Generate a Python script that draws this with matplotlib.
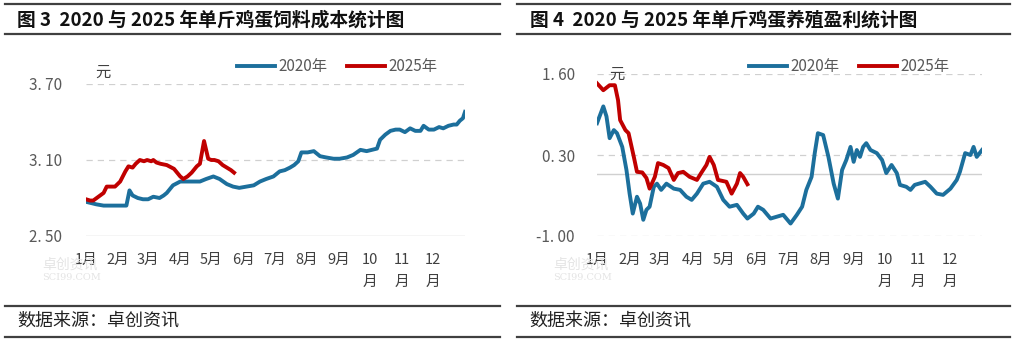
import matplotlib
matplotlib.use('Agg')
import matplotlib.pyplot as plt
from matplotlib.lines import Line2D

plt.rcParams['font.family'] = ['Noto Sans CJK SC', 'DejaVu Sans']

W, H = 1015, 346

# month tick positions (day of year) and labels
month_days = [0, 31, 60, 91, 121, 152, 182, 213, 244, 274, 305, 335]
month_labels = ['1月', '2月', '3月', '4月', '5月', '6月', '7月', '8月', '9月',
                '10\n月', '11\n月', '12\n月']

# 图3 feed cost, yuan per jin
cost_2020_day = [0, 5, 10, 17, 25, 33, 39, 42, 45, 50, 55, 60, 65, 71, 75, 78,
                 84, 91, 97, 104, 110, 116, 123, 129, 136, 142, 148, 155, 162,
                 168, 174, 181, 187, 192, 197, 201, 205, 208, 214, 220, 226,
                 232, 239, 245, 252, 258, 265, 271, 276, 281, 284, 289, 294,
                 299, 303, 308, 313, 318, 323, 326, 331, 336, 341, 345, 350,
                 355, 358, 361, 364, 366]
cost_2020 = [2.77, 2.76, 2.75, 2.74, 2.74, 2.74, 2.74, 2.86, 2.82, 2.80, 2.79,
             2.79, 2.81, 2.80, 2.82, 2.84, 2.90, 2.93, 2.93, 2.93, 2.93, 2.95,
             2.97, 2.95, 2.91, 2.89, 2.88, 2.89, 2.90, 2.93, 2.95, 2.97, 3.01,
             3.02, 3.04, 3.06, 3.09, 3.16, 3.16, 3.17, 3.13, 3.12, 3.11, 3.11,
             3.12, 3.14, 3.18, 3.17, 3.18, 3.19, 3.26, 3.30, 3.33, 3.34, 3.34,
             3.32, 3.35, 3.33, 3.33, 3.37, 3.34, 3.34, 3.36, 3.35, 3.37, 3.38,
             3.38, 3.41, 3.43, 3.48]
cost_2025_day = [0, 4, 7, 12, 17, 20, 24, 28, 33, 38, 41, 45, 48, 52, 56, 59,
                 63, 65, 68, 72, 78, 85, 91, 94, 98, 102, 107, 110, 114, 118,
                 121, 124, 128, 132, 136, 140, 143]
cost_2025 = [2.79, 2.78, 2.78, 2.81, 2.84, 2.89, 2.89, 2.89, 2.93, 3.01, 3.05,
             3.04, 3.07, 3.10, 3.09, 3.10, 3.09, 3.10, 3.08, 3.07, 3.06, 3.03,
             2.97, 2.95, 2.97, 3.00, 3.05, 3.07, 3.25, 3.11, 3.10, 3.10, 3.09,
             3.06, 3.04, 3.02, 3.00]

# 图4 breeding profit, yuan per jin
profit_2020_day = [0, 6, 9, 12, 16, 19, 24, 28, 31, 34, 38, 41, 44, 47, 50, 54,
                   57, 61, 66, 73, 79, 85, 90, 95, 101, 107, 114, 120, 126,
                   133, 139, 143, 149, 153, 158, 165, 171, 177, 184, 190, 195,
                   199, 204, 207, 210, 215, 220, 225, 229, 233, 237, 241, 244,
                   247, 250, 253, 256, 260, 266, 271, 275, 280, 285, 288, 294,
                   298, 302, 312, 317, 323, 329, 336, 342, 345, 350, 355, 358,
                   361, 366]
profit_2020 = [0.81, 1.08, 0.92, 0.57, 0.70, 0.65, 0.43, 0.06, -0.32, -0.64,
               -0.37, -0.48, -0.74, -0.58, -0.53, -0.21, -0.16, -0.26, -0.16,
               -0.24, -0.26, -0.37, -0.42, -0.32, -0.16, -0.13, -0.21, -0.42,
               -0.53, -0.50, -0.64, -0.72, -0.64, -0.53, -0.58, -0.72, -0.69,
               -0.66, -0.80, -0.66, -0.53, -0.26, -0.05, 0.33, 0.65, 0.62,
               0.27, -0.16, -0.40, 0.06, 0.22, 0.43, 0.19, 0.38, 0.27, 0.43,
               0.49, 0.38, 0.33, 0.22, 0.01, 0.14, 0.01, -0.18, -0.21, -0.26,
               -0.18, -0.13, -0.21, -0.32, -0.34, -0.24, -0.10, 0.03, 0.33,
               0.30, 0.43, 0.27, 0.38]
profit_2025_day = [0, 6, 12, 17, 20, 22, 27, 30, 35, 38, 43, 47, 50, 55, 58,
                   63, 68, 73, 77, 82, 88, 95, 99, 104, 107, 111, 115, 123,
                   128, 133, 136, 139, 143]
profit_2025 = [1.45, 1.34, 1.42, 1.42, 1.18, 0.86, 0.70, 0.65, 0.27, 0.03,
               0.02, -0.07, -0.24, -0.05, 0.17, 0.14, 0.09, -0.10, 0.01, 0.03,
               -0.05, -0.10, 0.01, 0.14, 0.27, 0.14, -0.10, -0.13, -0.32,
               -0.16, 0.01, -0.05, -0.17]

BLUE = '#1c6f9c'
RED = '#c00000'
GRID = '#d0d0d0'
TXT = '#595959'


def px_axes(fig, x0, y0, x1, y1):
    return fig.add_axes([x0 / W, 1 - y1 / H, (x1 - x0) / W, (y1 - y0) / H])


def draw_panel(fig, box, title, title_x, rule_x, days_a, vals_a, days_b,
               vals_b, yticks, ylabels, solid_y, leg_x, yuan_xy, ypad):
    ax = px_axes(fig, *box)
    ax.plot(days_a, vals_a, color=BLUE, lw=2.8, solid_joinstyle='round')
    ax.plot(days_b, vals_b, color=RED, lw=2.8, solid_joinstyle='round')
    ax.set_xlim(0, 366)
    ax.set_ylim(yticks[0], yticks[-1])
    for y in yticks:
        if y == solid_y:
            continue
        ax.axhline(y, color=GRID, lw=0.9, ls=(0, (5, 4)), zorder=0)
    ax.axhline(solid_y, color=GRID, lw=1.0, zorder=0)
    for s in ax.spines.values():
        s.set_visible(False)
    ax.set_yticks(yticks)
    ax.set_yticklabels(ylabels, color=TXT, fontsize=11)
    ax.set_xticks(month_days)
    ax.set_xticklabels(month_labels, fontsize=10.5, color='#404040',
                       linespacing=1.75, va='top')
    ax.tick_params(length=0, axis='y', pad=ypad)
    ax.tick_params(length=0, axis='x', pad=12)

    # title block
    for yy in (4, 34, 306, 337):
        fig.add_artist(Line2D([rule_x[0] / W, rule_x[1] / W],
                              [1 - yy / H] * 2, color='#404040', lw=1.6))
    fig.text(title_x / W, 1 - 20 / H, title, fontsize=13.5, weight='bold',
             va='center', color='#111111')
    # source
    fig.text((rule_x[0] + 12) / W, 1 - 322 / H, '数据来源：卓创资讯',
             fontsize=13, va='center', color='#222222')

    # legend
    ly = 1 - 66 / H
    for dx, col, lab in [(0, BLUE, '2020年'), (110, RED, '2025年')]:
        x0 = leg_x + dx
        fig.add_artist(Line2D([x0 / W, (x0 + 38) / W], [ly, ly], color=col,
                              lw=2.8))
        fig.text((x0 + 41) / W, ly, lab, fontsize=11, va='center',
                 color=TXT)
    fig.text(yuan_xy[0] / W, 1 - yuan_xy[1] / H, '元', fontsize=11,
             va='center', ha='center', color='#404040')

    # faint watermark
    fig.text((box[0] - 44) / W, 1 - 265 / H, '卓创资讯', fontsize=10,
             color='#e4e4e4', va='center', zorder=0)
    fig.text((box[0] - 44) / W, 1 - 278 / H, 'SCI99.COM', fontsize=7,
             family='serif', color='#e4e4e4', va='center', zorder=0)
    return ax


fig = plt.figure(figsize=(W / 100, H / 100), dpi=100)
fig.patch.set_facecolor('white')

draw_panel(fig, (86, 84, 465, 236), '图 3  2020 与 2025 年单斤鸡蛋饲料成本统计图',
           17, (5, 500), cost_2020_day, cost_2020, cost_2025_day, cost_2025,
           [2.50, 3.10, 3.70], ['2. 50', '3. 10', '3. 70'], 2.50, 237,
           (103, 72), 17)

draw_panel(fig, (597, 74, 982, 236), '图 4  2020 与 2025 年单斤鸡蛋养殖盈利统计图',
           530, (517, 1010), profit_2020_day, profit_2020, profit_2025_day,
           profit_2025, [-1.00, 0.30, 1.60], ['-1. 00', '0. 30', '1. 60'],
           0.0, 749, (617, 74), 16)

fig.savefig('out.png', dpi=100)
